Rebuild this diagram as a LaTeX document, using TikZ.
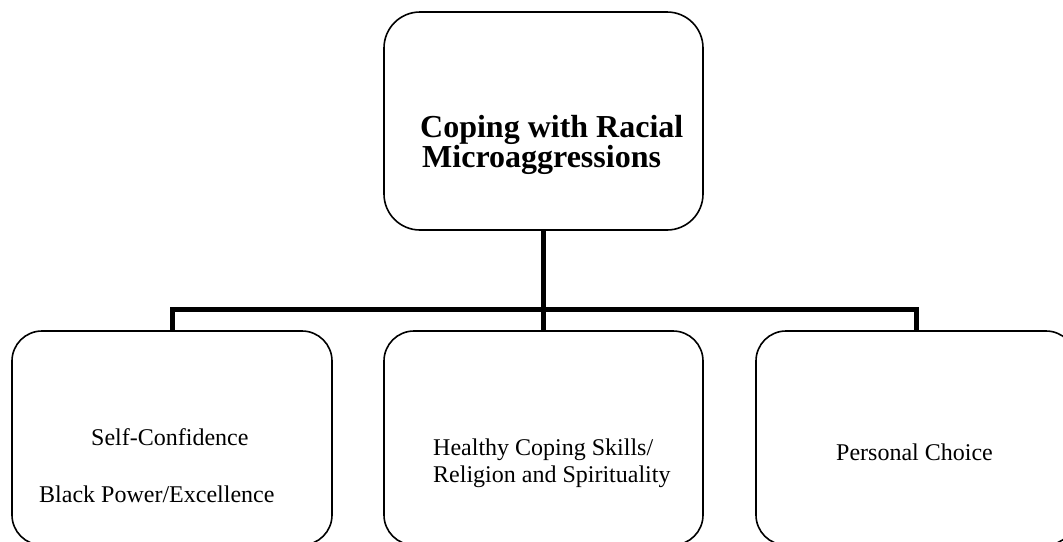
\documentclass[tikz,border=0pt]{standalone}
\usepackage{fontspec}
\setmainfont{Liberation Serif}
\begin{document}
\begin{tikzpicture}[x=1pt,y=-1pt,
  box/.style={draw=black,line width=1.6pt,rounded corners=36pt,inner sep=0pt},
  conn/.style={draw=black,line width=5pt,line join=miter},
  txt/.style={inner sep=0pt,anchor=base west,font=\fontsize{24}{27}\selectfont},
  ttl/.style={inner sep=0pt,anchor=base west,font=\fontsize{32}{27}\selectfont\bfseries}]
\useasboundingbox (0,0) rectangle (1063,541);
\node[box,minimum width=319pt,minimum height=218pt] (top) at (543.5,121) {};
\node[box,rounded corners=30pt,minimum width=320pt,minimum height=214pt] (left) at (172,438) {};
\node[box,rounded corners=30pt,minimum width=319pt,minimum height=214pt] (mid) at (543.5,438) {};
\node[box,rounded corners=30pt,minimum width=320pt,minimum height=214pt] (right) at (916,438) {};
\coordinate (bus) at (543.5,309);
\draw[conn] (top.south) -- (mid.north);
\draw[conn] (left.north) |- (bus) -| (right.north);
\node[ttl] (title1) at (420,137) {Coping with Racial};
\node[ttl] (title2) at (422,167) {Microaggressions};
\node[txt] (sc) at (91,445) {Self-Confidence};
\node[txt] (bp) at (39,502) {Black Power/Excellence};
\node[txt] (hc1) at (433,455) {Healthy Coping Skills/};
\node[txt] (hc2) at (433,482) {Religion and Spirituality};
\node[txt] (pc) at (836,460) {Personal Choice};
\end{tikzpicture}
\end{document}
